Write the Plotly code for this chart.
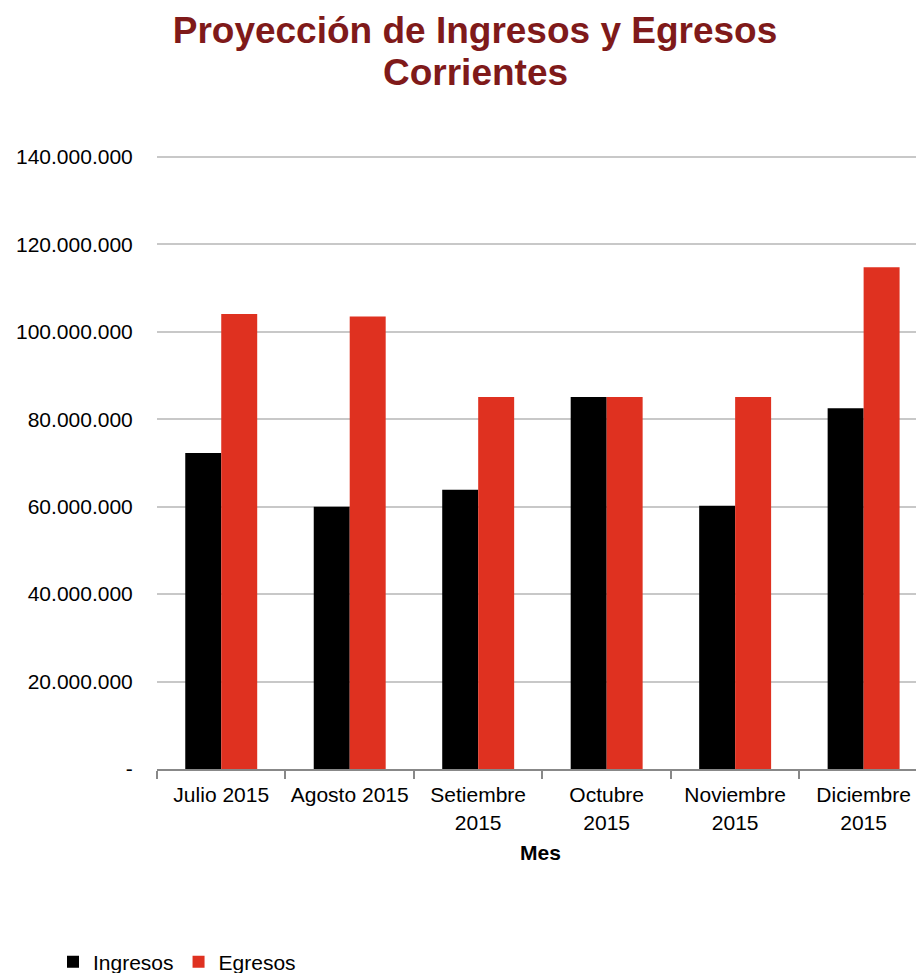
import plotly.graph_objects as go

meses = ["Julio 2015", "Agosto 2015", "Setiembre<br>2015", "Octubre<br>2015", "Noviembre<br>2015", "Diciembre<br>2015"]
ingresos = [72300000, 60000000, 63900000, 85100000, 60200000, 82500000]
egresos = [104100000, 103500000, 85100000, 85100000, 85100000, 114800000]
tick_vals = [0, 20000000, 40000000, 60000000, 80000000, 100000000, 120000000, 140000000]
tick_text = ["-", "20.000.000", "40.000.000", "60.000.000", "80.000.000", "100.000.000", "120.000.000", "140.000.000"]

FONT = "Liberation Sans, Arial, sans-serif"
W, H = 916, 965

fig = go.Figure()
fig.add_trace(go.Bar(name="Ingresos", x=meses, y=ingresos, marker=dict(color="#000000", line=dict(width=0))))
fig.add_trace(go.Bar(name="Egresos", x=meses, y=egresos, marker=dict(color="#DF3120", line=dict(width=0))))

fig.update_layout(
    width=W, height=H,
    margin=dict(l=149, r=0, t=147, b=204),
    paper_bgcolor="white", plot_bgcolor="white",
    font=dict(family=FONT, size=21, color="#000000"),
    barmode="group", bargap=0.44, bargroupgap=0,
    title=dict(text="<b>Proyección de Ingresos y Egresos</b>",
               font=dict(family=FONT, size=37, color="#7F1A1A"),
               x=467/W, xanchor="center", xref="container", y=1 - 22/H, yanchor="middle", yref="container"),
    annotations=[dict(text="<b>Corrientes</b>", font=dict(family=FONT, size=37, color="#7F1A1A"),
                      xanchor="center", yanchor="middle", showarrow=False,
                      xref="paper", yref="paper",
                      x=(467 - 149) / (W - 149), y=1 + (147 - 65) / (H - 147 - 204))],
    showlegend=True,
    legend=dict(orientation="h", x=45/W, xanchor="left", y=11/H, yanchor="middle",
                xref="container", yref="container", font=dict(size=21), traceorder="normal",
                itemwidth=30),
)
fig.update_xaxes(
    range=[-0.5, 5.47], showgrid=False, showline=True, linecolor="#888888", linewidth=2,
    ticks="outside", tickson="boundaries", ticklen=8, tickcolor="#888888", tickwidth=2,
    tickfont=dict(size=21), ticklabelstandoff=6,
    title=dict(text="<b>Mes</b>", font=dict(size=21), standoff=13),
)
fig.update_yaxes(
    range=[0, 140457000], tickvals=tick_vals, ticktext=tick_text,
    showgrid=True, gridcolor="#C8C8C8", gridwidth=2, zeroline=False, showline=False,
    ticks="outside", ticklen=19, tickcolor="rgba(0,0,0,0)",
    tickfont=dict(size=21),
)

fig.write_html("out.html")
